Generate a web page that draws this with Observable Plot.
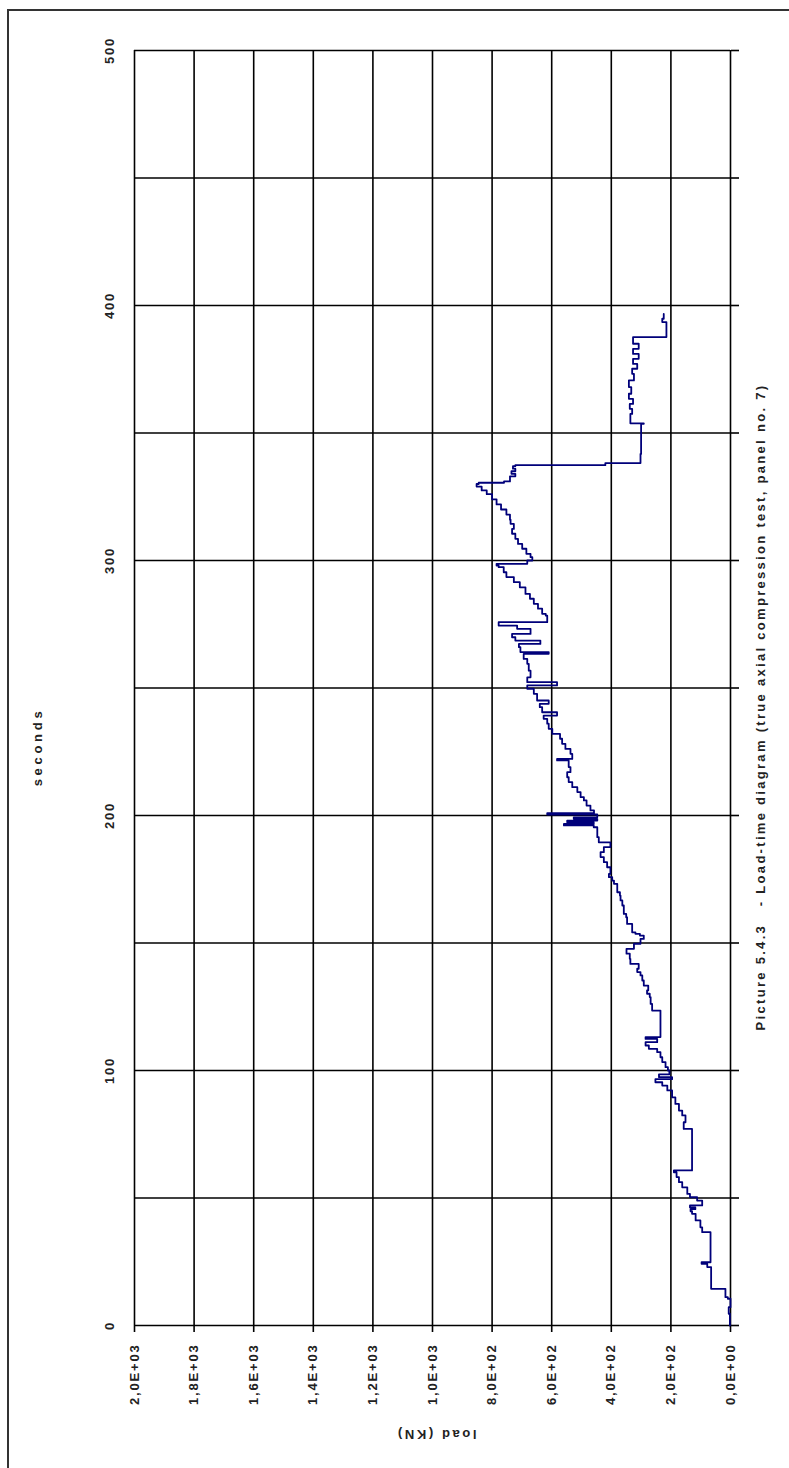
<!DOCTYPE html>
<html><head><meta charset="utf-8">
<script src="https://cdn.jsdelivr.net/npm/d3@7"></script>
<script src="https://cdn.jsdelivr.net/npm/@observablehq/plot@0.6"></script>
<style>
html,body{margin:0;padding:0;background:#fff;overflow:hidden}
#page{position:relative;width:789px;height:1468px;overflow:hidden}
#border{position:absolute;left:7px;top:9px;width:800px;height:1480px;border-left:2px solid #333;border-top:2px solid #333}
#chart{position:absolute;left:0;top:0}
#chart svg text{letter-spacing:1.8px}
#chart text[aria-label="y-title"]{letter-spacing:3.7px}
#chart text[aria-label="x-title"]{letter-spacing:2.6px}
#chart text[aria-label="caption"]{letter-spacing:2.3px}
</style></head><body>
<div id="page"><div id="border"></div><div id="chart"></div></div>
<script>
// seconds
const times = [0,4.6,7.2,10.5,11.1,14.4,14.4,20.3,22.9,24.2,24.8,36.6,36.6,38.5,41.2,43.8,44.8,45.6,46.3,47.1,49,50.3,51.6,54.2,56.2,58.2,60.1,60.8,77.1,77.1,79.7,82.4,84.3,86.9,89.5,92.2,94.1,95.4,96.2,96.6,97.4,98.5,100,101.3,103.3,105.2,107.2,108.5,109.8,111.1,112.4,113.1,123.5,123.5,126.1,128.8,130.1,131.4,133.3,135.3,137.3,138.6,139.9,141.8,143.8,145.8,147.7,149.7,151.6,152.9,153.6,154.2,156.2,157.5,160.1,161.4,164.7,166.7,168.6,169.9,173.2,174.5,175.8,177.1,179.7,181.7,183.7,185.6,187.6,189.5,189.5,191.5,194.1,195.4,196.1,196.7,197.4,198,198.7,199.3,200,200.4,200.9,202,203.9,205.9,207.2,209.2,211.1,213.1,215,217,219,221.6,222.2,224.2,226.1,228.1,230.1,232,234,236,237.9,239.2,240.5,242.5,243.8,245.1,247.7,249.7,251,252.3,254.2,256.8,259.5,261.4,263.4,264.1,266,267.3,268.6,269.9,271.2,273.2,274.5,275.8,278.4,279.1,281.1,283,285,286.9,289.5,291.5,293.5,295.4,297.4,298,298.7,300,301.3,302.6,304.6,306.5,308.5,310.5,312.4,314.4,316,318,320,322,324,326,327.5,329,330,330.5,331,333,334,335,336,337,337.4,338.2,341.8,347.1,353.6,353.8,355.4,357.5,359.5,361.4,363.4,365.4,368,370.6,373.2,375.2,377.1,379.1,381,383,385,387.6,387.6,391.5,393.5,394.8,396.7];
// load (kN)
const loads = [2,6,0,9,17,17,65,65,78,97,67,67,95,101,117,129,134,118,136,95,112,136,145,162,173,181,190,129,129,157,151,162,173,185,196,212,229,252,252,196,240,205,210,218,229,235,246,274,285,246,285,235,235,263,268,271,280,276,291,296,302,313,308,336,338,349,324,302,291,304,319,330,330,347,350,358,363,369,371,380,391,397,408,403,414,425,436,425,403,403,442,447,447,459,559,459,548,447,526,447,447,615,458,470,483,492,503,514,531,543,548,537,543,582,531,537,554,565,572,598,610,615,627,582,632,640,610,649,660,682,582,682,671,677,682,694,610,705,710,638,722,733,671,716,778,615,620,632,646,660,673,688,707,727,752,761,778,785,682,665,671,685,699,713,722,733,727,738,740,752,770,785,800,818,835,852,845,760,740,722,735,722,730,722,420,302,300,300,291,336,336,330,338,327,341,333,341,324,330,313,327,308,327,308,327,322,215,215,229,224,224];

const loadTicks = [0,200,400,600,800,1000,1200,1400,1600,1800,2000];
const loadTickLabels = ["0,0E+00","2,0E+02","4,0E+02","6,0E+02","8,0E+02","1,0E+03","1,2E+03","1,4E+03","1,6E+03","1,8E+03","2,0E+03"];
const timeGrid = [0,50,100,150,200,250,300,350,400,450,500];
const timeLabelTicks = [0,100,200,300,400,500];
const timeTickLabels = ["0","100","200","300","400","500"];
const yTitle = "seconds";
const xTitle = "load (KN)";
const caption = "Picture 5.4.3\u00a0\u00a0\u00a0- Load-time diagram (true axial compression test, panel no. 7)";

const data = times.map((t, i) => ({time: t, load: loads[i]}));

const plot = Plot.plot({
  width: 789,
  height: 1468,
  marginLeft: 134,
  marginRight: 59,
  marginTop: 50,
  marginBottom: 143,
  style: {fontFamily: "'Liberation Sans', Arial, sans-serif", fontSize: "13px", fontWeight: "bold", color: "#222", background: "transparent", overflow: "visible"},
  x: {domain: [0, 2000], reverse: true},
  y: {domain: [0, 500]},
  marks: [
    Plot.gridX(loadTicks, {stroke: "#000", strokeOpacity: 1, strokeWidth: 1.6}),
    Plot.gridY(timeGrid, {stroke: "#000", strokeOpacity: 1, strokeWidth: 1.6}),
    Plot.axisX(loadTicks, {anchor: "bottom", tickSize: 7, tickPadding: 11, tickRotate: -90,
      tickFormat: d => loadTickLabels[loadTicks.indexOf(d)], label: null, stroke: "#000", strokeWidth: 1.6, fill: "#222"}),
    Plot.axisY(timeGrid, {anchor: "right", tickSize: 8, tickFormat: () => "", label: null, stroke: "#000", strokeWidth: 1.6}),
    Plot.axisY(timeLabelTicks, {anchor: "left", tickSize: 0, tickPadding: 21, tickRotate: -90,
      tickFormat: d => timeTickLabels[timeLabelTicks.indexOf(d)], label: null, fill: "#222"}),
    Plot.line(data, {x: "load", y: "time", curve: "step-before", stroke: "#00007a", strokeWidth: 1.8}),
    Plot.text([yTitle], {frameAnchor: "left", rotate: -90, textAnchor: "middle", lineAnchor: "middle", dx: -96.5, dy: 59, fill: "#222", ariaLabel: () => "y-title"}),
    Plot.text([xTitle], {frameAnchor: "bottom", rotate: 180, textAnchor: "middle", lineAnchor: "middle", dx: 3.5, dy: 109, fill: "#222", ariaLabel: () => "x-title"}),
    Plot.text([caption], {frameAnchor: "right", rotate: -90, textAnchor: "middle", lineAnchor: "middle", dx: 30.5, dy: 19, fill: "#222", ariaLabel: () => "caption"})
  ]
});
document.getElementById("chart").appendChild(plot);
</script>
</body></html>
